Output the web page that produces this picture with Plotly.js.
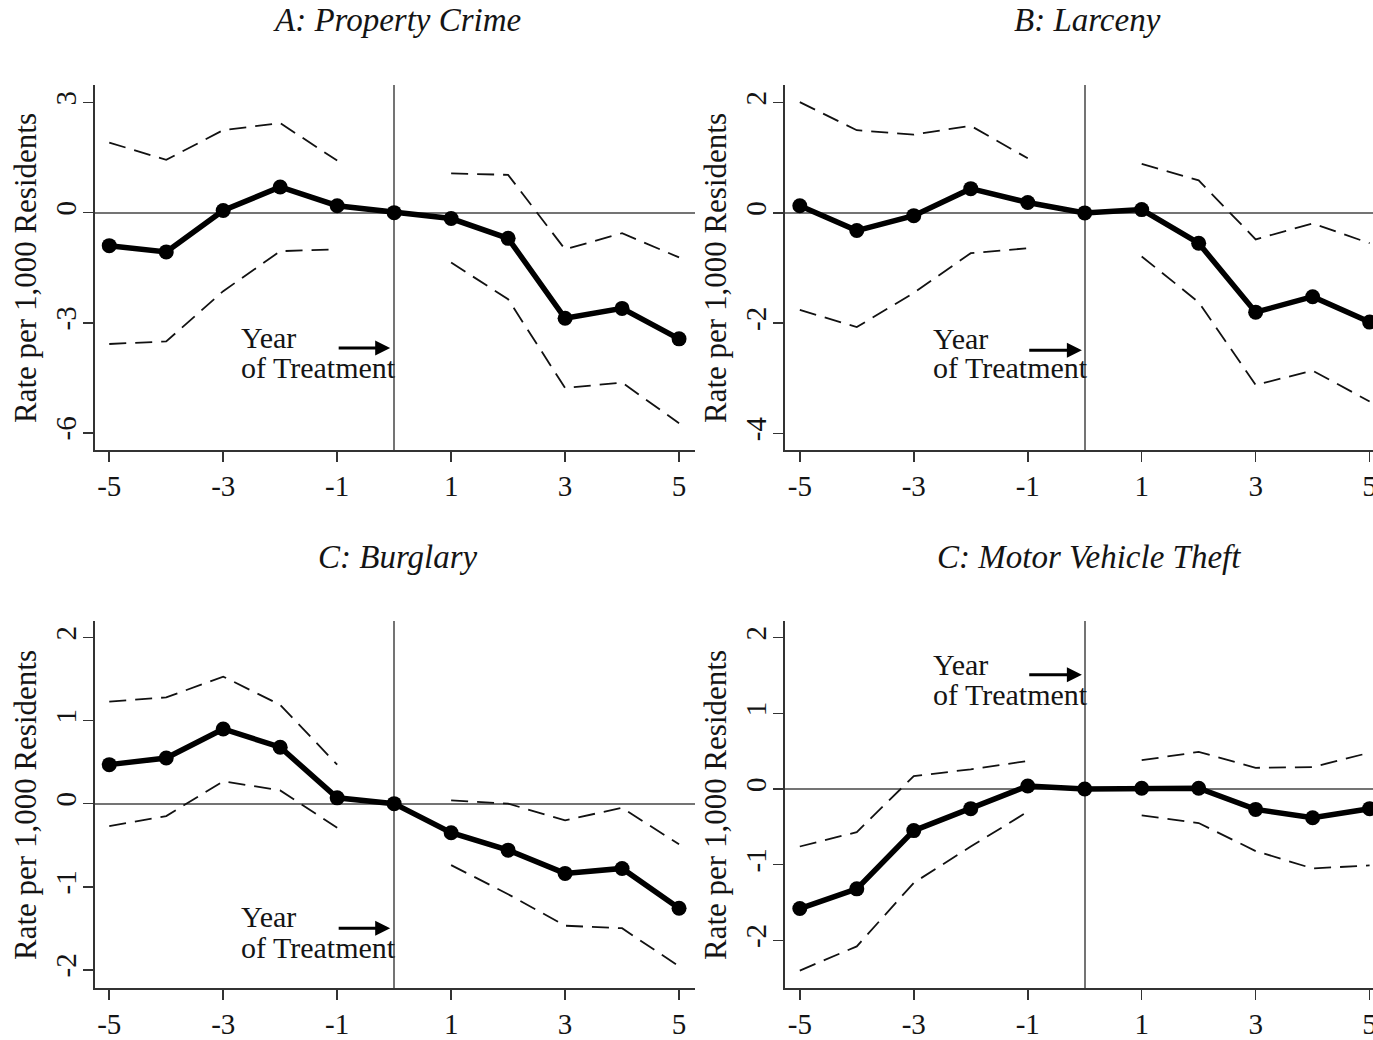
<!DOCTYPE html>
<html>
<head>
<meta charset="utf-8">
<script src="https://cdn.plot.ly/plotly-3.0.1.min.js"></script>
<style>
  html, body { margin: 0; padding: 0; overflow: hidden; background: #fff; }
  #chart { width: 1390px; height: 1040px; }
</style>
</head>
<body>
<div id="chart"></div>
<script>
// Event-time (years relative to treatment)
const years = [-5, -4, -3, -2, -1, 0, 1, 2, 3, 4, 5];

// Panel A: Property Crime
const propertyEst   = [-0.90, -1.07, 0.06, 0.70, 0.19, 0, -0.16, -0.70, -2.88, -2.61, -3.44];
const propertyUpper = [1.91, 1.44, 2.25, 2.44, 1.42, null, 1.07, 1.03, -1.00, -0.56, -1.22];
const propertyLower = [-3.58, -3.51, -2.14, -1.05, -1.00, null, -1.36, -2.36, -4.78, -4.63, -5.74];

// Panel B: Larceny
const larcenyEst   = [0.13, -0.32, -0.05, 0.44, 0.19, 0, 0.06, -0.55, -1.80, -1.52, -1.98];
const larcenyUpper = [2.01, 1.50, 1.42, 1.58, 0.99, null, 0.89, 0.59, -0.48, -0.19, -0.55];
const larcenyLower = [-1.76, -2.07, -1.45, -0.73, -0.64, null, -0.79, -1.62, -3.12, -2.86, -3.42];

// Panel C: Burglary
const burglaryEst   = [0.47, 0.55, 0.90, 0.68, 0.07, 0, -0.35, -0.56, -0.84, -0.78, -1.26];
const burglaryUpper = [1.23, 1.28, 1.53, 1.19, 0.47, null, 0.04, 0.00, -0.20, -0.05, -0.49];
const burglaryLower = [-0.27, -0.15, 0.27, 0.16, -0.29, null, -0.74, -1.09, -1.47, -1.50, -1.96];

// Panel D: Motor Vehicle Theft
const vehicleEst   = [-1.58, -1.32, -0.55, -0.26, 0.04, 0, 0.01, 0.01, -0.27, -0.38, -0.26];
const vehicleUpper = [-0.76, -0.57, 0.17, 0.26, 0.37, null, 0.38, 0.49, 0.28, 0.29, 0.48];
const vehicleLower = [-2.40, -2.08, -1.24, -0.76, -0.30, null, -0.35, -0.45, -0.82, -1.05, -1.01];

// Tick labels
const xTickVals = [-5, -3, -1, 1, 3, 5];
const xTickText = ['-5', '-3', '-1', '1', '3', '5'];
const yTickValsA = [3, 0, -3, -6];
const yTickTextA = ['3', '0', '-3', '-6'];
const yTickValsB = [2, 0, -2, -4];
const yTickTextB = ['2', '0', '-2', '-4'];
const yTickValsCD = [2, 1, 0, -1, -2];
const yTickTextCD = ['2', '1', '0', '-1', '-2'];

const panelTitles = ['A: Property Crime', 'B: Larceny', 'C: Burglary', 'C: Motor Vehicle Theft'];
const yTitle = 'Rate per 1,000 Residents';
const noteLine1 = 'Year';
const noteLine2 = 'of Treatment';

const W = 1390, H = 1040;
const FONT = '"Liberation Serif", "Times New Roman", serif';
const INK = '#141414';
const px = v => v / W;
const py = v => 1 - v / H;

const panels = [
  { est: propertyEst, up: propertyUpper, lo: propertyLower, xs: 'x',  ys: 'y'  },
  { est: larcenyEst,  up: larcenyUpper,  lo: larcenyLower,  xs: 'x2', ys: 'y2' },
  { est: burglaryEst, up: burglaryUpper, lo: burglaryLower, xs: 'x3', ys: 'y3' },
  { est: vehicleEst,  up: vehicleUpper,  lo: vehicleLower,  xs: 'x4', ys: 'y4' }
];

const traces = [];
panels.forEach(p => {
  [p.up, p.lo].forEach(band => {
    traces.push({
      x: years, y: band, xaxis: p.xs, yaxis: p.ys,
      type: 'scatter', mode: 'lines', connectgaps: false,
      line: { color: '#111', width: 1.8, dash: '17px,9px' },
      hoverinfo: 'skip', showlegend: false
    });
  });
  traces.push({
    x: years, y: p.est, xaxis: p.xs, yaxis: p.ys,
    type: 'scatter', mode: 'lines+markers',
    line: { color: '#000', width: 5.5 },
    marker: { color: '#000', size: 15 },
    showlegend: false
  });
});

function xAxis(domain, range) {
  return {
    domain: domain, range: range, fixedrange: true,
    tickmode: 'array', tickvals: xTickVals, ticktext: xTickText,
    ticks: 'outside', ticklen: 10, tickwidth: 1.6, tickcolor: '#333',
    showline: true, linecolor: '#333', linewidth: 1.6,
    showgrid: false, zeroline: true, zerolinecolor: '#747474', zerolinewidth: 1.8,
    tickfont: { family: FONT, size: 29, color: INK }
  };
}
function yAxis(domain, range, vals, text) {
  return {
    domain: domain, range: range, fixedrange: true,
    tickmode: 'array', tickvals: vals, ticktext: text, tickangle: -90,
    ticklabelstandoff: -4,
    ticks: 'outside', ticklen: 10, tickwidth: 1.6, tickcolor: '#333',
    showline: true, linecolor: '#333', linewidth: 1.6,
    showgrid: false, zeroline: true, zerolinecolor: '#747474', zerolinewidth: 1.8,
    tickfont: { family: FONT, size: 29, color: INK }
  };
}

const leftX = [px(95), px(695)];
const rightX = [px(785), px(1385)];
const topY = [py(450), py(85)];
const botY = [py(988), py(621)];

const annotations = [];
const titlePos = [[397, 20], [1087, 20], [398, 557], [1089, 557]];
panelTitles.forEach((t, i) => {
  annotations.push({
    text: t, xref: 'paper', yref: 'paper', x: px(titlePos[i][0]), y: py(titlePos[i][1]),
    xanchor: 'center', yanchor: 'middle', showarrow: false,
    font: { family: FONT, size: 33, color: INK, style: 'italic' }
  });
});
[[25, 268], [715, 268], [25, 805], [715, 805]].forEach(pos => {
  annotations.push({
    text: yTitle, xref: 'paper', yref: 'paper', x: px(pos[0]), y: py(pos[1]),
    xanchor: 'center', yanchor: 'middle', textangle: -90, showarrow: false,
    font: { family: FONT, size: 31, color: INK }
  });
});

// "Year of Treatment" note with arrow pointing at the treatment year
const notes = [
  { xs: 'x',  ys: 'y',  tx: -2.72, y1: -3.41, y2: -4.23, ay: -3.69, a0: -1.0, a1: -0.07 },
  { xs: 'x2', ys: 'y2', tx: -2.69, y1: -2.27, y2: -2.81, ay: -2.49, a0: -1.0, a1: -0.05 },
  { xs: 'x3', ys: 'y3', tx: -2.72, y1: -1.36, y2: -1.73, ay: -1.50, a0: -1.0, a1: -0.07 },
  { xs: 'x4', ys: 'y4', tx: -2.69, y1: 1.64,  y2: 1.25,  ay: 1.51,  a0: -1.0, a1: -0.05 }
];
notes.forEach(n => {
  [[noteLine1, n.y1], [noteLine2, n.y2]].forEach(([txt, yy]) => {
    annotations.push({
      text: txt, xref: n.xs, yref: n.ys, x: n.tx, y: yy,
      xanchor: 'left', yanchor: 'middle', showarrow: false,
      font: { family: FONT, size: 30, color: INK }
    });
  });
  annotations.push({
    text: '', xref: n.xs, yref: n.ys, x: n.a1, y: n.ay,
    axref: n.xs, ayref: n.ys, ax: n.a0, ay: n.ay,
    showarrow: true, arrowhead: 2, arrowsize: 1, arrowwidth: 3, arrowcolor: '#000'
  });
});

const layout = {
  width: W, height: H,
  margin: { l: 0, r: 0, t: 0, b: 0 },
  paper_bgcolor: '#fff', plot_bgcolor: '#fff',
  showlegend: false,
  xaxis:  xAxis(leftX,  [-5.25, 5.28]),
  xaxis2: xAxis(rightX, [-5.26, 5.27]),
  xaxis3: xAxis(leftX,  [-5.25, 5.28]),
  xaxis4: xAxis(rightX, [-5.26, 5.27]),
  yaxis:  yAxis(topY, [-6.47, 3.48], yTickValsA, yTickTextA),
  yaxis2: yAxis(topY, [-4.30, 2.32], yTickValsB, yTickTextB),
  yaxis3: yAxis(botY, [-2.22, 2.20], yTickValsCD, yTickTextCD),
  yaxis4: yAxis(botY, [-2.63, 2.22], yTickValsCD, yTickTextCD),
  annotations: annotations
};
layout.xaxis.anchor = 'y';   layout.yaxis.anchor = 'x';
layout.xaxis2.anchor = 'y2'; layout.yaxis2.anchor = 'x2';
layout.xaxis3.anchor = 'y3'; layout.yaxis3.anchor = 'x3';
layout.xaxis4.anchor = 'y4'; layout.yaxis4.anchor = 'x4';

Plotly.newPlot('chart', traces, layout, { displayModeBar: false, staticPlot: true });
</script>
</body>
</html>
